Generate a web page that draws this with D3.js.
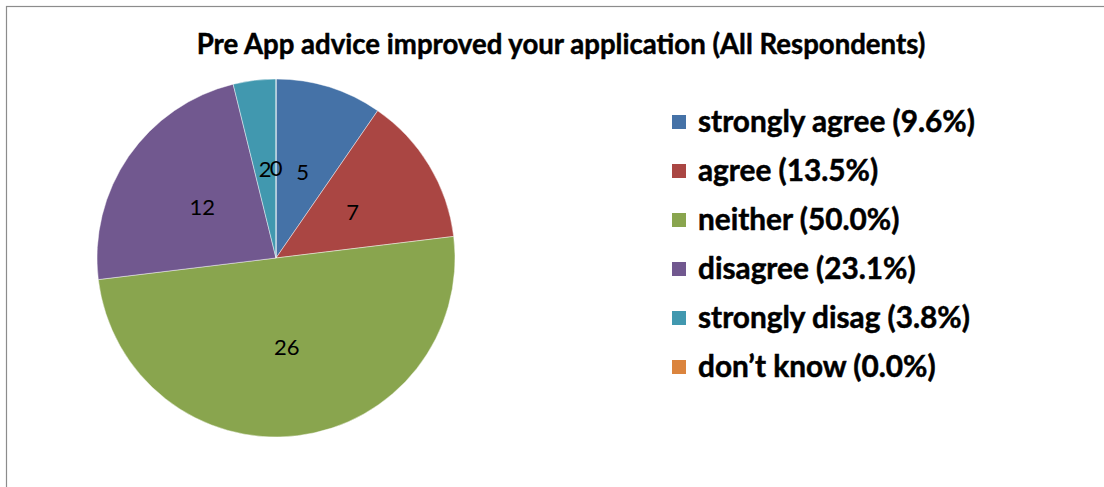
<!DOCTYPE html>
<html>
<head>
<meta charset="utf-8">
<script src="https://cdn.jsdelivr.net/npm/d3@7"></script>
<style>
  html, body { margin: 0; padding: 0; background: #fff; }
  svg { display: block; }
</style>
</head>
<body>
<svg id="chart" width="1104" height="487"></svg>
<script>
// Survey responses: "Pre App advice improved your application"
const categories = ["strongly agree", "agree", "neither", "disagree", "strongly disag", "don\u2019t know"];
const counts = [5, 7, 26, 12, 2, 0];
const colors = ["#4572A7", "#AA4643", "#89A54E", "#71588F", "#4198AF", "#DB843D"];
const title = "Pre App advice improved your application (All Respondents)";

const svg = d3.select("#chart");
const W = 1104, H = 487;
const FONT = "Lato, 'Open Sans', sans-serif";

// chart area frame (runs off the right and bottom edges)
svg.append("rect")
  .attr("x", 6.5).attr("y", 6.5)
  .attr("width", W + 10).attr("height", H + 10)
  .attr("fill", "#fff")
  .attr("stroke", "#8c8c8c").attr("stroke-width", 1.2);

// shrink/grow a text node's font size so it spans the given width
function fitWidth(sel, width) {
  const node = sel.node();
  const fs = parseFloat(sel.attr("font-size"));
  const w = node.getComputedTextLength();
  sel.attr("font-size", (fs * width / w).toFixed(2));
}

// title
const t = svg.append("text")
  .attr("x", 561).attr("y", 54)
  .attr("text-anchor", "middle")
  .attr("font-family", FONT).attr("font-weight", "bold")
  .attr("font-size", 22).attr("fill", "#000")
  .attr("stroke", "#000").attr("stroke-width", 0.45)
  .text(title);
fitWidth(t, 729);

// pie
const cx = 276, cy = 258, R = 179;
const total = d3.sum(counts);
const pie = d3.pie().sort(null).value(d => d)(counts);
const arc = d3.arc().innerRadius(0).outerRadius(R);
const labelArc = d3.arc().innerRadius(R * 0.5).outerRadius(R * 0.5);

const g = svg.append("g").attr("transform", `translate(${cx},${cy})`);
g.selectAll("path.slice")
  .data(pie)
  .join("path")
  .attr("class", "slice")
  .attr("d", arc)
  .attr("fill", (d, i) => colors[i])
  .attr("stroke", "rgba(255,255,255,0.55)")
  .attr("stroke-width", 0.8);

// value labels
g.selectAll("text.val")
  .data(pie)
  .join("text")
  .attr("class", "val")
  .attr("transform", d => `translate(${labelArc.centroid(d)})`)
  .attr("text-anchor", "middle")
  .attr("dy", "0.36em")
  .attr("font-family", FONT)
  .attr("font-size", 22)
  .attr("fill", "#000")
  .text(d => d.data);

// legend
const legX = 672, legY0 = 122, legStep = 49, sw = 14;
const leg = svg.append("g");
const rows = leg.selectAll("g.row")
  .data(categories)
  .join("g")
  .attr("class", "row")
  .attr("transform", (d, i) => `translate(${legX},${legY0 + i * legStep})`);
rows.append("rect")
  .attr("x", 0).attr("y", -sw / 2)
  .attr("width", sw).attr("height", sw)
  .attr("fill", (d, i) => colors[i]);
const legText = rows.append("text")
  .attr("x", 26).attr("dy", "0.35em")
  .attr("font-family", FONT).attr("font-weight", "bold")
  .attr("font-size", 24).attr("fill", "#000")
  .attr("stroke", "#000").attr("stroke-width", 0.5)
  .text((d, i) => `${d} (${(counts[i] / total * 100).toFixed(1)}%)`);
// size legend text so the first entry spans its measured width
const first = legText.filter((d, i) => i === 0);
const fs0 = 24 * 277 / first.node().getComputedTextLength();
legText.attr("font-size", fs0.toFixed(2));
</script>
</body>
</html>
